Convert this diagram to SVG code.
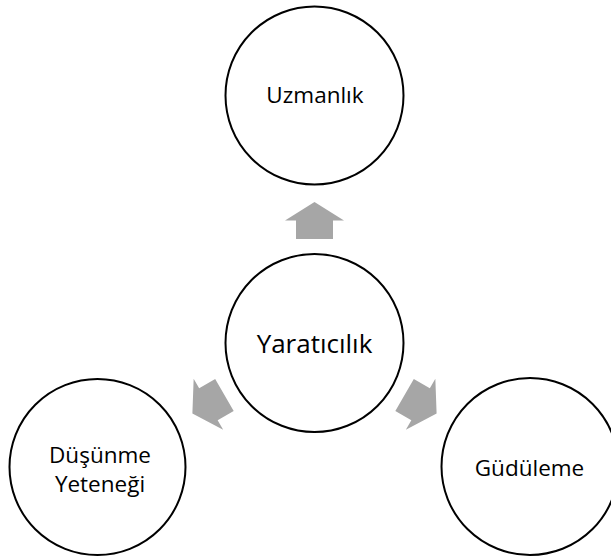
<svg xmlns="http://www.w3.org/2000/svg" width="611" height="559" viewBox="0 0 611 559">
<style>
.node circle{fill:#fff;stroke:#000;stroke-width:2}
.node text{font-family:"Open Sans","Noto Sans","Liberation Sans",sans-serif;font-size:22.5px;fill:#000;text-anchor:middle}
.arrow{fill:#A6A6A6}
</style>
<defs>
<path id="arr" d="M314.5,202 L344,220.5 L333,220.5 L333,239 L296,239 L296,220.5 L285,220.5 Z"/>
</defs>
<rect width="611" height="559" fill="#fff"/>
<g id="connectors">
<use href="#arr" class="arrow"/>
<use href="#arr" class="arrow" transform="rotate(-120 314.5 343)"/>
<use href="#arr" class="arrow" transform="rotate(120 314.5 343)"/>
</g>
<g id="node-uzmanlik" class="node">
<circle cx="314.5" cy="95.5" r="89"/>
<text x="315" y="103">Uzmanlık</text>
</g>
<g id="node-yaraticilik" class="node">
<circle cx="314.5" cy="343" r="89"/>
<text x="314.5" y="353" style="font-size:26px">Yaratıcılık</text>
</g>
<g id="node-dusunme" class="node">
<circle cx="97.5" cy="467" r="88"/>
<text x="100" y="463">Düşünme</text>
<text x="100" y="492">Yeteneği</text>
</g>
<g id="node-guduleme" class="node">
<circle cx="530" cy="466.5" r="88.5"/>
<text x="529.5" y="476">Güdüleme</text>
</g>
</svg>
